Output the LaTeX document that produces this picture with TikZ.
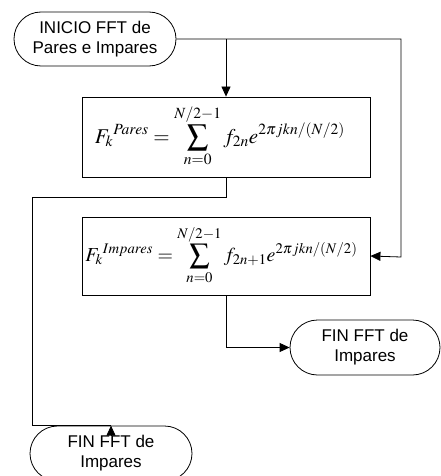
\documentclass[tikz,border=0pt]{standalone}
\usepackage{mathptmx}
\usepackage{graphicx}
\usepackage[no-math]{fontspec}
\setmainfont{Liberation Sans}
\usetikzlibrary{shapes.misc,arrows.meta,calc}
\begin{document}
\begin{tikzpicture}[x=1pt,y=-1pt,
  every node/.style={inner sep=0pt},
  terminal/.style={draw,line width=0.8pt,rounded rectangle,minimum width=162pt,
    minimum height=54pt,align=center,font=\fontsize{17}{20}\selectfont},
  procbox/.style={draw,line width=0.8pt,minimum width=288pt},
  formula/.style={font=\fontsize{20}{24}\selectfont},
  link/.style={line width=0.8pt},
  arr/.style={link,-{Triangle[length=10pt,width=9pt]}}]
\useasboundingbox (0,0) rectangle (441,476);

% terminals
\node[terminal] (start) at (95,39) {INICIO FFT de\\Pares e Impares};
\node[terminal,minimum width=150pt,minimum height=55pt] (endR) at (365,347.5) {FIN FFT de\\Impares};
\node[terminal,minimum height=55pt] (endL) at (111,453.5) {FIN FFT de\\Impares};

% process boxes
\node[procbox,minimum height=80pt] (box1) at (226,137) {};
\node[procbox,minimum height=78pt] (box2) at (226,256) {};
\node[formula] (f1) at (220,136)
  {\resizebox{250pt}{!}{$\displaystyle F_k{}^{Pares}=\sum_{n=0}^{N/2-1} f_{2n}e^{2\pi jkn/(N/2)}$}};
\node[formula] (f2) at (221.5,255)
  {\resizebox{272pt}{!}{$\displaystyle F_k{}^{Impares}=\sum_{n=0}^{N/2-1} f_{2n+1}e^{2\pi jkn/(N/2)}$}};

% connectors
\coordinate (rc) at (401,257);
\coordinate (lc) at (32,197);
\draw[arr] (start.east) -| (rc) -- (box2.east);
\draw[arr] (start.east -| box1.north) -- (box1.north);
\draw[link] (box1.south) |- (lc) |- (endL.north);
\draw[arr] ($(endL.north)+(0,10)$) -- (endL.north);
\draw[arr] (box2.south) |- (endR.west);
\end{tikzpicture}
\end{document}
